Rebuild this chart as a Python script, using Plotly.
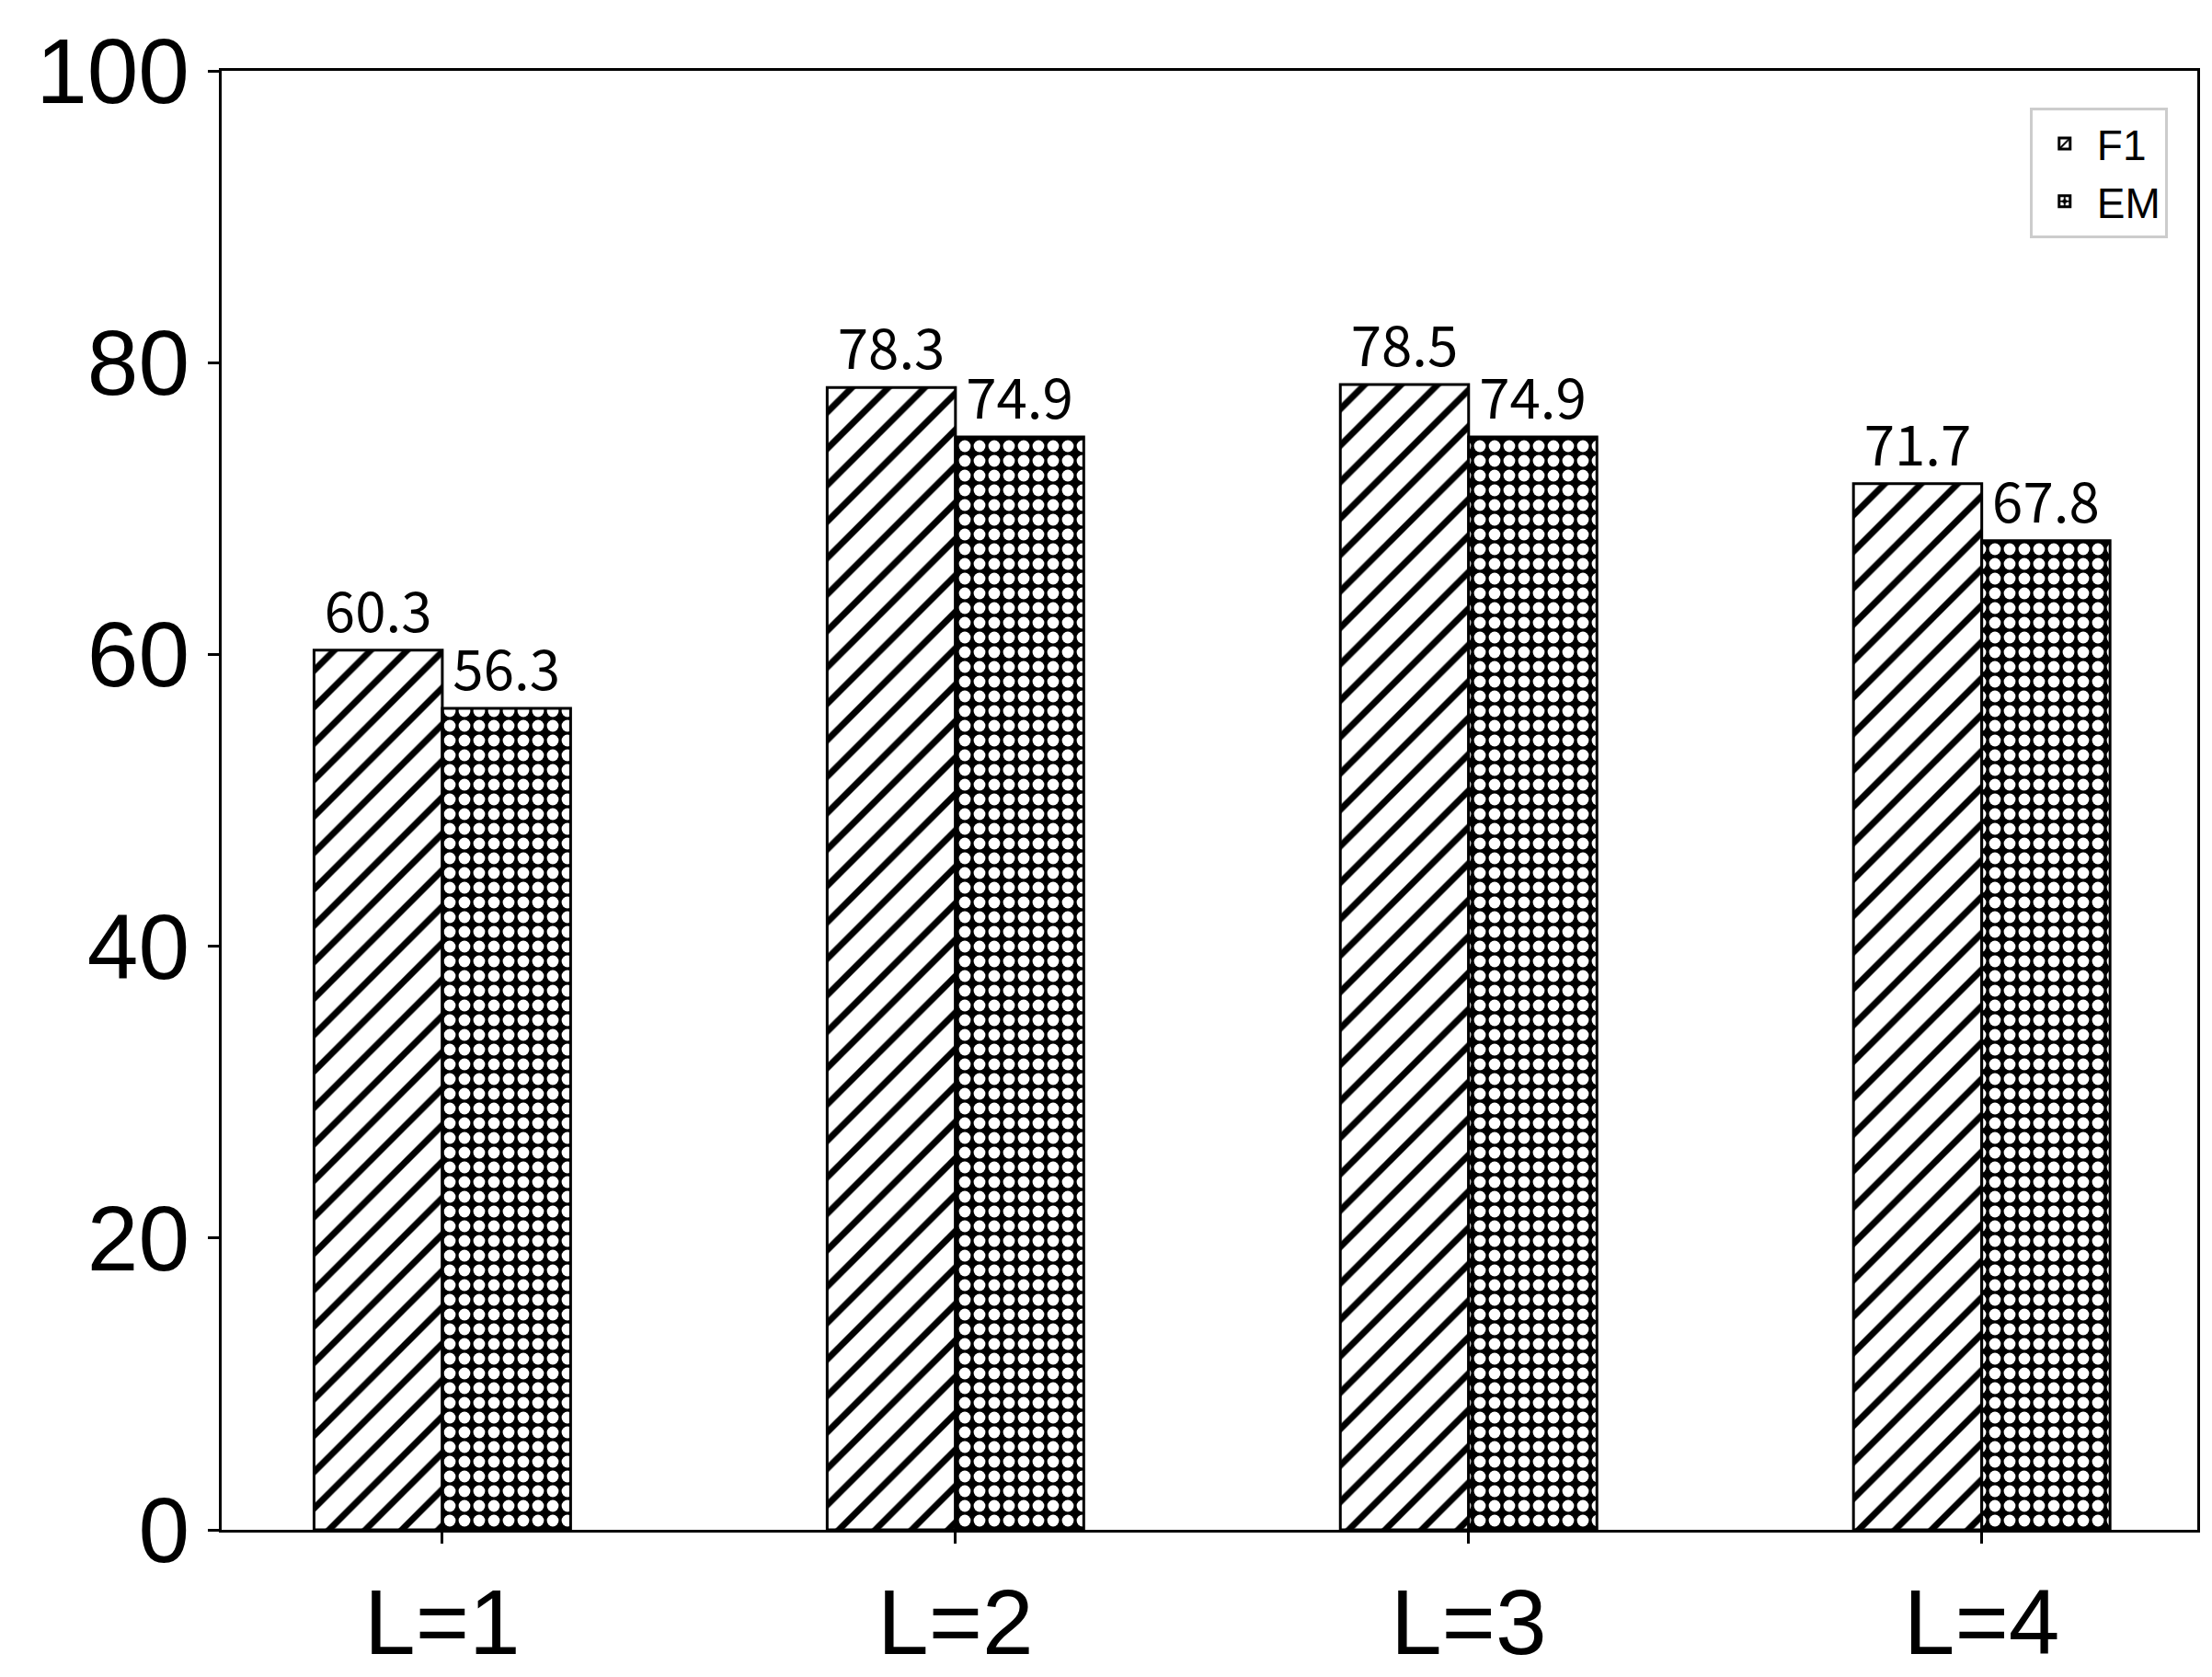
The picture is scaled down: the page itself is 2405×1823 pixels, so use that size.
import plotly.graph_objects as go

categories = ["L=1", "L=2", "L=3", "L=4"]
f1 = [60.3, 78.3, 78.5, 71.7]
em = [56.3, 74.9, 74.9, 67.8]

fig = go.Figure()
fig.add_bar(x=categories, y=f1, name="F1", text=[f"{v:.1f}" for v in f1],
            textposition="outside", cliponaxis=False,
            textfont=dict(family="Noto Sans CJK SC", size=60, color="black"),
            marker=dict(color="white", line=dict(color="black", width=3),
                        pattern=dict(shape="/", fgcolor="black", bgcolor="white",
                                     size=28, solidity=0.25, fillmode="replace")))
fig.add_bar(x=categories, y=em, name="EM", text=[f"{v:.1f}" for v in em],
            textposition="outside", cliponaxis=False,
            textfont=dict(family="Noto Sans CJK SC", size=60, color="black"),
            marker=dict(color="black", line=dict(color="black", width=3),
                        pattern=dict(shape=".", fgcolor="white", bgcolor="black",
                                     size=16, solidity=0.5, fillmode="replace")))

fig.update_layout(
    width=2405, height=1823, barmode="group", bargap=0.5, bargroupgap=0,
    plot_bgcolor="white", paper_bgcolor="white",
    margin=dict(l=233, r=24, t=69, b=156),
    font=dict(family="Liberation Sans", color="black"),
    showlegend=True,
    legend=dict(x=0.985, y=0.975, xanchor="right", yanchor="top",
                bordercolor="#cccccc", borderwidth=3, bgcolor="white",
                font=dict(size=46, family="Liberation Sans"), itemwidth=60),
)
fig.update_xaxes(showline=True, linecolor="black", linewidth=3, mirror=True,
                 ticks="outside", ticklen=12, tickwidth=3, tickcolor="black",
                 tickfont=dict(size=100), range=[-0.43, 3.42])
fig.update_yaxes(showline=True, linecolor="black", linewidth=3, mirror=True,
                 ticks="outside", ticklen=12, tickwidth=3, tickcolor="black",
                 tickfont=dict(size=100), range=[0, 100], dtick=20,
                 showgrid=False, zeroline=False)
fig.write_html("out.html")
